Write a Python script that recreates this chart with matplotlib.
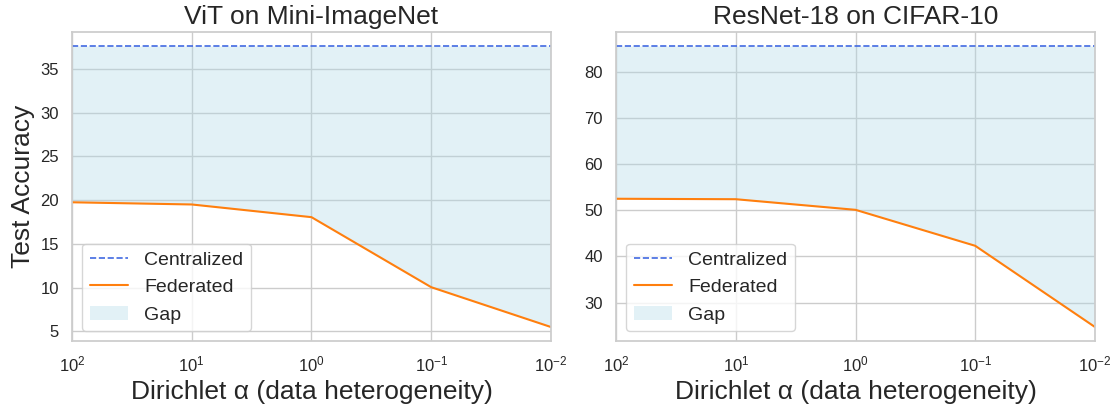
import matplotlib
matplotlib.use('Agg')
import matplotlib.pyplot as plt
import seaborn as sns

# valeurs
alphas = [100, 10, 1, 0.1, 0.01]
titres = ['ViT on Mini-ImageNet', 'ResNet-18 on CIFAR-10']
centralise = [37.6, 85.6]
federe_vit = [19.75, 19.5, 18.05, 10.05, 5.5]
federe_resnet = [52.5, 52.4, 50.1, 42.3, 24.7]

sns.set_theme(style='whitegrid')
plt.rcParams['font.family'] = ['Liberation Sans', 'DejaVu Sans']
plt.rcParams['mathtext.fontset'] = 'custom'
plt.rcParams['mathtext.rm'] = 'Liberation Sans'
plt.rcParams['mathtext.it'] = 'Liberation Sans'

fig, axes = plt.subplots(1, 2, figsize=(11.13, 4.07), dpi=100)
fig.subplots_adjust(left=0.0647, right=0.9838, bottom=0.162, top=0.9214, wspace=0.136)

for ax, titre, cent, fed in zip(axes, titres, centralise, [federe_vit, federe_resnet]):
    ax.plot(alphas, [cent] * len(alphas), '--', color='royalblue', lw=1.2, label='Centralized')
    ax.plot(alphas, fed, '-', color='#ff7f0e', lw=1.5, label='Federated')
    ax.fill_between(alphas, fed, cent, color='lightblue', alpha=0.35, lw=0, label='Gap')
    ax.set_xscale('log')
    ax.set_xlim(100, 0.01)
    ax.set_title(titre, fontsize=19)
    ax.set_xlabel('Dirichlet α (data heterogeneity)', fontsize=19)
    ax.tick_params(axis='both', labelsize=12)
    ax.legend(loc='lower left', fontsize=14)

axes[0].set_ylabel('Test Accuracy', fontsize=19)

plt.savefig('out.png')
